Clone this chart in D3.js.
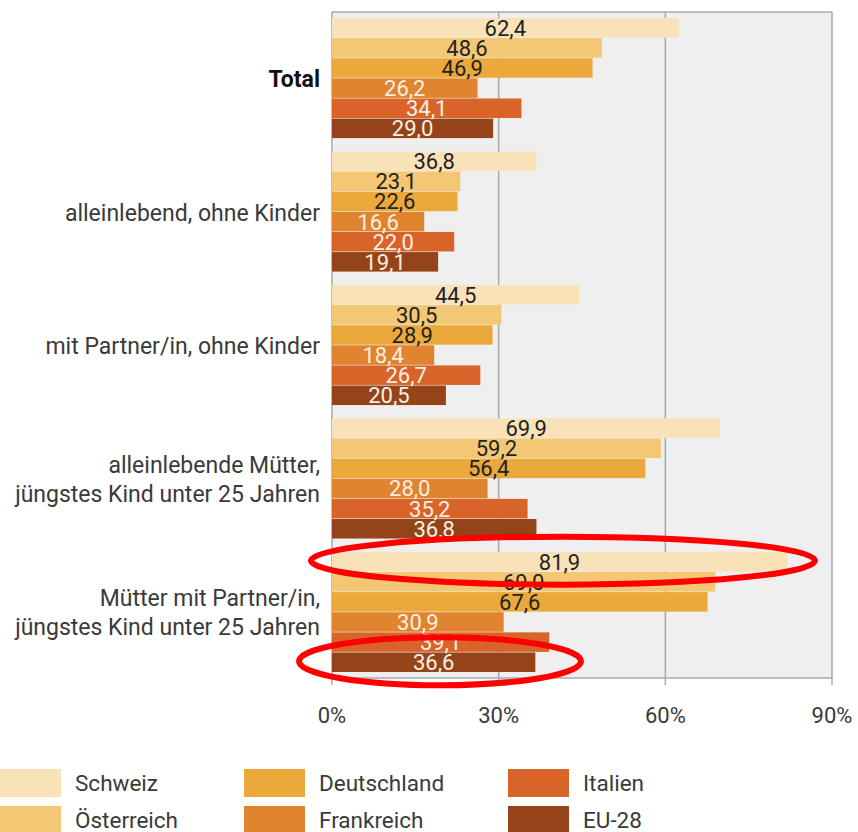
<!DOCTYPE html>
<html>
<head>
<meta charset="utf-8">
<script src="https://cdn.jsdelivr.net/npm/d3@7"></script>
<style>
  html, body { margin: 0; padding: 0; background: #fff; }
  svg { display: block; font-family: Roboto, "Noto Sans", sans-serif; }
</style>
</head>
<body>
<svg id="chart" width="858" height="832"></svg>
<script>
// Household types (categories), each label split into display lines
const categories = [
  "Total",
  "alleinlebend, ohne Kinder",
  "mit Partner/in, ohne Kinder",
  "alleinlebende Mütter,|jüngstes Kind unter 25 Jahren",
  "Mütter mit Partner/in,|jüngstes Kind unter 25 Jahren"
];

// Countries (series)
const series = ["Schweiz", "Österreich", "Deutschland", "Frankreich", "Italien", "EU-28"];

// Share in percent, one array per country, in category order
const schweiz     = [62.4, 36.8, 44.5, 69.9, 81.9];
const oesterreich = [48.6, 23.1, 30.5, 59.2, 69.0];
const deutschland = [46.9, 22.6, 28.9, 56.4, 67.6];
const frankreich  = [26.2, 16.6, 18.4, 28.0, 30.9];
const italien     = [34.1, 22.0, 26.7, 35.2, 39.1];
const eu28        = [29.0, 19.1, 20.5, 36.8, 36.6];

const xTicks = [0, 30, 60, 90];

const seriesValues = [schweiz, oesterreich, deutschland, frankreich, italien, eu28];
const colors = ["#f9e2b8", "#f3c774", "#eba93b", "#e0842f", "#d9642a", "#95441a"];
const labelColors = ["#222", "#222", "#222", "#fbefe2", "#fbefe2", "#fbefe2"];

const svg = d3.select("#chart");
const plot = { left: 332, right: 832, top: 12, bottom: 678 };

const x = d3.scaleLinear().domain([0, 90]).range([plot.left, plot.right]);
const y0 = d3.scaleBand().domain(d3.range(categories.length))
  .range([plot.top, plot.bottom]).paddingInner(0.1).paddingOuter(0.045);
const y1 = d3.scaleBand().domain(d3.range(series.length))
  .range([0, y0.bandwidth()]).paddingInner(0.03).paddingOuter(0);

// Plot background
svg.append("rect")
  .attr("x", plot.left).attr("y", plot.top)
  .attr("width", plot.right - plot.left).attr("height", plot.bottom - plot.top)
  .attr("fill", "#efefef");

// Gridlines with ticks reaching below the frame
svg.append("g").selectAll("line").data(xTicks).join("line")
  .attr("x1", d => x(d)).attr("x2", d => x(d))
  .attr("y1", plot.top).attr("y2", plot.bottom + 7)
  .attr("stroke", "#a9a9a9").attr("stroke-width", 1.5);

// Frame top and bottom
svg.append("line").attr("x1", plot.left).attr("x2", plot.right)
  .attr("y1", plot.top).attr("y2", plot.top)
  .attr("stroke", "#a9a9a9").attr("stroke-width", 1.5);
svg.append("line").attr("x1", plot.left).attr("x2", plot.right)
  .attr("y1", plot.bottom).attr("y2", plot.bottom)
  .attr("stroke", "#a9a9a9").attr("stroke-width", 1.5);

// Tick labels
svg.append("g").selectAll("text").data(xTicks).join("text")
  .attr("x", d => x(d)).attr("y", 715)
  .attr("dy", "0.35em")
  .attr("text-anchor", "middle")
  .attr("font-size", 22).attr("fill", "#3a3a3a")
  .text(d => d + "%");

// Bars
const groups = svg.append("g").selectAll("g").data(categories).join("g")
  .attr("transform", (d, i) => `translate(0,${y0(i)})`);

groups.each(function(cat, ci) {
  const g = d3.select(this);
  const rows = seriesValues.map((vals, si) => ({ si, v: vals[ci] }));
  g.selectAll("rect").data(rows).join("rect")
    .attr("x", x(0))
    .attr("y", d => y1(d.si))
    .attr("width", d => x(d.v) - x(0))
    .attr("height", y1.bandwidth())
    .attr("fill", d => colors[d.si]);
  g.selectAll("text.val").data(rows).join("text")
    .attr("class", "val")
    .attr("x", d => (x(0) + x(d.v)) / 2)
    .attr("y", d => y1(d.si) + y1.bandwidth() / 2)
    .attr("dy", "0.36em")
    .attr("text-anchor", "middle")
    .attr("font-size", 22)
    .attr("fill", d => labelColors[d.si])
    .text(d => d3.format(".1f")(d.v).replace(".", ","));
});

// Category labels
const catG = svg.append("g");
categories.forEach((cat, ci) => {
  const lines = cat.split("|");
  const cy = y0(ci) + y0.bandwidth() / 2;
  const lh = 29;
  const t = catG.append("text")
    .attr("text-anchor", "end")
    .attr("font-size", 23)
    .attr("fill", ci === 0 ? "#111" : "#3a3a3a")
    .attr("font-weight", ci === 0 ? "bold" : "normal");
  lines.forEach((ln, li) => {
    t.append("tspan")
      .attr("x", 320)
      .attr("y", cy + (li - (lines.length - 1) / 2) * lh + 1)
      .attr("dy", "0.35em")
      .text(ln);
  });
});

// Red highlight ellipses around Schweiz and EU-28 in the last group
const last = categories.length - 1;
const hl = [
  { si: 0, cx: 563, rx: 252, ry: 24 },
  { si: 5, cx: 440, rx: 141, ry: 24 }
];
svg.append("g").selectAll("ellipse").data(hl).join("ellipse")
  .attr("cx", d => d.cx)
  .attr("cy", d => y0(last) + y1(d.si) + y1.bandwidth() / 2 - 1)
  .attr("rx", d => d.rx).attr("ry", d => d.ry)
  .attr("fill", "none").attr("stroke", "#ff0000").attr("stroke-width", 6);

// Legend: three columns, two rows
const legend = svg.append("g");
const colX = [0, 244, 508];
const rowY = [769, 806];
series.forEach((s, i) => {
  const cx = colX[Math.floor(i / 2)];
  const ry = rowY[i % 2];
  legend.append("rect")
    .attr("x", cx).attr("y", ry).attr("width", 61).attr("height", 28)
    .attr("fill", colors[i]);
  legend.append("text")
    .attr("x", cx + 75).attr("y", ry + 14)
    .attr("dy", "0.35em")
    .attr("font-size", 22.5).attr("fill", "#3a3a3a")
    .text(s);
});
</script>
</body>
</html>
